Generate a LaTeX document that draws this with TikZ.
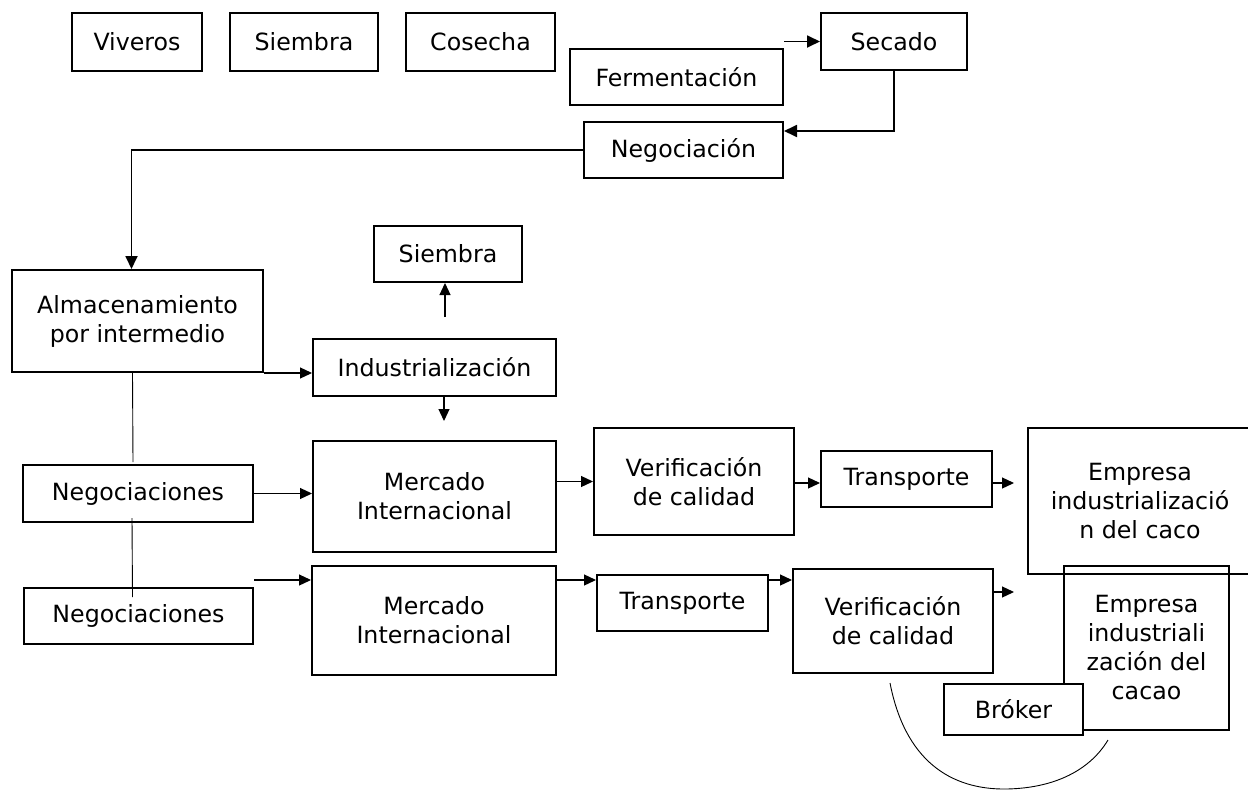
\documentclass[tikz,border=0pt]{standalone}
\usepackage{fontspec}
\setmainfont{DejaVu Sans}
\usetikzlibrary{arrows.meta,positioning}
\tikzset{
  stage/.style={draw, line width=2pt, align=center, inner sep=0pt, font=\fontsize{23.7}{29}\selectfont},
  sz/.style 2 args={minimum width=#1pt, minimum height=#2pt},
  flow/.style={-{Triangle[length=13pt,width=12pt]}, line width=1.8pt},
  thinflow/.style={-{Triangle[length=12pt,width=11pt]}, line width=1.2pt},
  link/.style={line width=0.9pt}
}
\begin{document}
\begin{tikzpicture}[x=1pt, y=-1pt]
  \useasboundingbox (0,0) rectangle (1248,790);
  % first stage
  \node[stage, sz={130}{58}] (viv) at (137,42) {Viveros};
  \node[stage, sz={148}{58}] (siem) at (304,42) {Siembra};
  \node[stage, sz={149}{58}] (cos) at (480.5,42) {Cosecha};
  \node[stage, sz={213}{56}] (ferm) at (676.5,77) {Fermentación};
  \node[stage, sz={146}{57}] (sec) at (894,41.5) {Secado};
  \node[stage, sz={199}{56}] (nego) at (683.5,150) {Negociación};
  % middle
  \node[stage, sz={251}{102}] (alm) at (137.5,321) {Almacenamiento\\por intermedio};
  \node[stage, sz={148}{56}] (siem2) at (448,254) {Siembra};
  \node[stage, sz={243}{57}] (ind) at (434.5,367.5) {Industrialización};
  \node[stage, sz={230}{57}] (negs1) at (138,493.5) {Negociaciones};
  \node[stage, sz={243}{111}] (merc1) at (434.5,496.5) {Mercado\\Internacional};
  \node[stage, sz={200}{107}] (ver1) at (694,481.5) {Verificación\\de calidad};
  \node[stage, sz={171}{56}] (tra1) at (906.5,479) {Transporte};
  \node[stage, sz={224}{146}] (emp1) at (1140,501) {Empresa\\industrializació\\n del caco};
  % bottom
  \node[stage, sz={229}{56}] (negs2) at (138.5,616) {Negociaciones};
  \node[stage, sz={244}{109}] (merc2) at (434,620.5) {Mercado\\Internacional};
  \node[stage, sz={171}{56}] (tra2) at (682.5,603) {Transporte};
  \node[stage, sz={200}{104}] (ver2) at (893,621) {Verificación\\de calidad};
  \node[stage, sz={165}{164}] (emp2) at (1146.5,648) {Empresa\\industriali\\zación del\\cacao};
  \node[stage, sz={139}{51}, fill=white] (brk) at (1013.5,709.5) {Bróker};

  \coordinate (indtop) at (445,317);
  \coordinate (indbot) at (444,421);
  \coordinate (e1in) at (1014,483);
  \coordinate (m2in) at (254,580);
  \coordinate (e2in) at (1014,592);
  \coordinate (arcA) at (890,683);
  \coordinate (arcB) at (1108,740);

  \draw[flow] (ferm.east |- sec.west) -- (sec.west);
  \draw[flow] (sec.south) |- ([yshift=19pt]nego.east);
  \draw[flow] (nego.west) -| ([xshift=-6pt]alm.north);
  \draw[thinflow] (alm.south east) -- (alm.south east -| ind.west);
  \draw[thinflow] (indtop) -- (indtop |- siem2.south);
  \draw[thinflow] (ind.south -| indbot) -- (indbot);
  \draw[link] ([xshift=-5pt]alm.south) -- ([xshift=-5pt,yshift=2pt]negs1.north);
  \draw[link] ([xshift=-6pt,yshift=5pt]negs1.south) -- ([xshift=-6pt,yshift=-10pt]negs2.north);
  \draw[thinflow] (negs1.east) -- (negs1.east -| merc1.west);
  \draw[thinflow] (ver1.west -| merc1.east) -- (ver1.west);
  \draw[thinflow] (ver1.east |- e1in) -- (e1in -| tra1.west);
  \draw[thinflow] (tra1.east |- e1in) -- (e1in);
  \draw[thinflow] (m2in) -- (m2in -| merc2.west);
  \draw[thinflow] (m2in -| merc2.east) -- (m2in -| tra2.west);
  \draw[thinflow] (m2in -| tra2.east) -- (m2in -| ver2.west);
  \draw[thinflow] (e2in -| ver2.east) -- (e2in);
  \draw[link] (arcA) .. controls (905,760) and (950,790) .. (1007,789) .. controls (1055,788) and (1090,770) .. (arcB);
\end{tikzpicture}
\end{document}
